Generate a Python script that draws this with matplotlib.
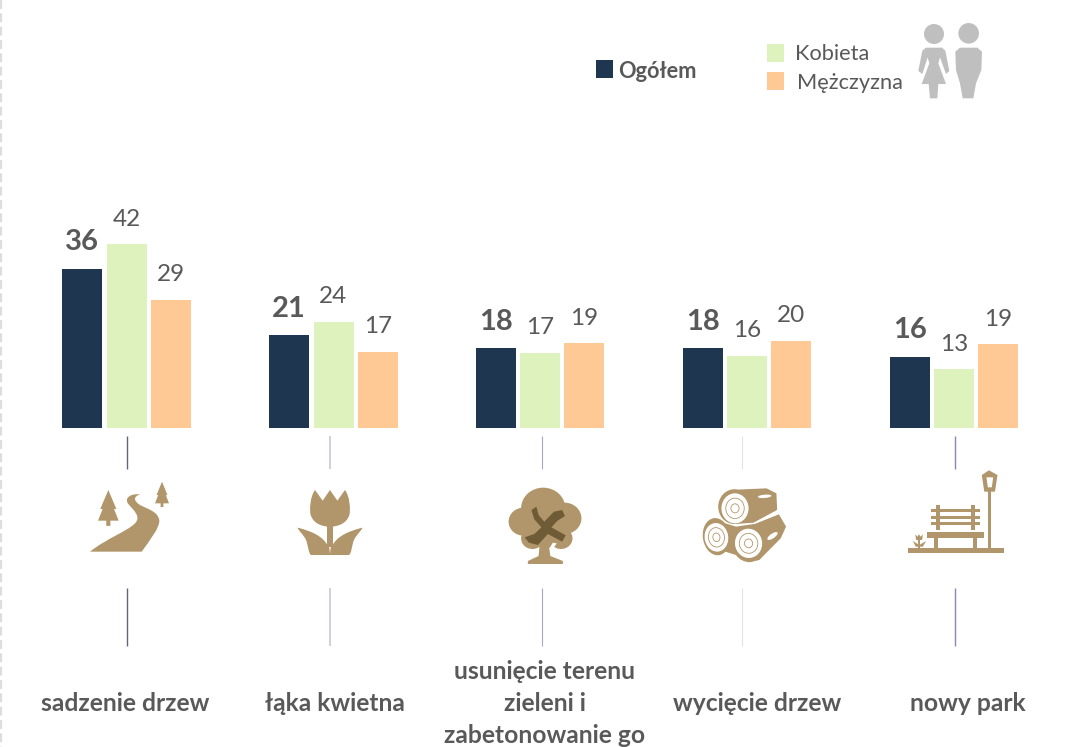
"""Grouped bars of most wanted green-space changes, with hand-drawn icons."""

import matplotlib.pyplot as plt
import numpy as np
from matplotlib.patches import Circle, Ellipse, PathPatch, Polygon, Rectangle
from matplotlib.path import Path

CATEGORIES = [
    "sadzenie drzew",
    "łąka kwietna",
    "usunięcie terenu\nzieleni i\nzabetonowanie go",
    "wycięcie drzew",
    "nowy park",
]
OGOLEM = [36.0, 21.0, 18.1, 18.1, 16.1]
KOBIETA = [41.6, 24.0, 17.0, 16.3, 13.3]
MEZCZYZNA = [29.0, 17.2, 19.2, 19.7, 19.0]

WIDTH = 1068
HEIGHT = 747
DPI = 100
BASELINE_PX = 428
PX_PER_UNIT = 4.42
GROUP_CENTERS = [126.5, 333.5, 540, 747, 954]
LABEL_CENTERS = [125, 334.5, 545, 757, 968]
BAR_OFFSET = 44.3
BAR_WIDTH = 40

NAVY = "#1f3650"
GREEN = "#ddf2bd"
ORANGE = "#fec995"
TAN = "#b0966a"
DARK_TAN = "#6f5c36"
GREY_TEXT = "#595959"
PEOPLE_GREY = "#bfbfbf"
FONT = "Lato"

plt.rcParams["font.family"] = [FONT, "DejaVu Sans"]


def zoom2(points):
    """Map coordinates of the left icon crop to figure pixels."""
    return [(x / 3, 430 + y / 3) for x, y in points]


def zoom3(points):
    """Map coordinates of the right icon crop to figure pixels."""
    return [(470 + x / 2.8, 430 + y / 3) for x, y in points]


def zoom1(points):
    """Map coordinates of the legend crop to figure pixels."""
    return [(560 + x / 3, y / 3) for x, y in points]


def add_poly(axis, points, color=TAN, zorder=3):
    axis.add_patch(Polygon(points, closed=True, fc=color, ec="none", zorder=zorder))


def add_curve(axis, points, codes, color=TAN, zorder=3):
    path = Path(points, codes)
    axis.add_patch(PathPatch(path, fc=color, ec="none", zorder=zorder))


def add_oval3(axis, cx, cy, rx, ry, angle=0, color=TAN, zorder=3):
    (x, y), = zoom3([(cx, cy)])
    axis.add_patch(Ellipse((x, y), rx * 2 / 2.8, ry * 2 / 3, angle=angle, fc=color, ec="none", zorder=zorder))


def draw_pine(axis, cx, top, half, height):
    """Small two-tier conifer in crop coordinates."""
    tier = top + height * 0.62
    bottom = top + height
    add_poly(axis, zoom2([
        (cx, top), (cx + half * 0.78, tier), (cx + half * 0.55, tier),
        (cx + half, bottom), (cx + half * 0.2, bottom), (cx + half * 0.2, bottom + height * 0.17),
        (cx - half * 0.2, bottom + height * 0.17), (cx - half * 0.2, bottom), (cx - half, bottom),
        (cx - half * 0.55, tier), (cx - half * 0.78, tier),
    ]))


def draw_road(axis):
    draw_pine(axis, 325, 180, 31, 92)
    draw_pine(axis, 486, 155, 21, 65)
    m, c, l = Path.MOVETO, Path.CURVE4, Path.LINETO
    points = zoom2([
        (270, 365),
        (320, 325), (380, 305), (405, 280),
        (425, 260), (400, 240), (385, 222),
        (372, 205), (390, 190), (420, 193),
        (400, 200), (400, 212), (420, 225),
        (445, 238), (475, 245), (478, 272),
        (478, 295), (450, 330), (425, 365),
        (270, 365),
    ])
    codes = [m, c, c, c, c, c, c, c, c, c, c, c, c, c, c, c, c, c, c, l]
    add_curve(axis, points, codes)


def draw_tulip(axis):
    m, c, l = Path.MOVETO, Path.CURVE4, Path.LINETO
    head = zoom2([
        (945, 180), (968, 212), (990, 180), (1012, 212), (1035, 180),
        (1050, 200), (1052, 240), (1048, 255),
        (1040, 280), (1015, 290), (990, 290),
        (965, 290), (940, 280), (932, 255),
        (928, 240), (930, 200), (945, 180),
    ])
    add_curve(axis, head, [m, l, l, l, l, c, c, c, c, c, c, c, c, c, c, c, c])
    add_poly(axis, zoom2([(980, 285), (1000, 285), (1000, 350), (980, 350)]))
    for sign in (-1, 1):
        leaf = [
            (990 + sign * 97, 293),
            (990 + sign * 50, 305), (990 + sign * 22, 320), (990 + sign * 8, 345),
            (990, 345), (990, 375), (990, 375),
            (990 + sign * 55, 375),
            (990 + sign * 65, 375), (990 + sign * 65, 345), (990 + sign * 72, 330),
            (990 + sign * 80, 312), (990 + sign * 97, 300), (990 + sign * 97, 293),
        ]
        add_curve(axis, zoom2(leaf), [m, c, c, c, c, c, c, l, c, c, c, c, c, c])


def draw_tree(axis):
    for cx, cy, r in [(205, 235, 62), (150, 275, 42), (265, 265, 47), (175, 325, 32),
                      (255, 325, 32), (205, 290, 60)]:
        add_oval3(axis, cx, cy, r, r)
    add_poly(axis, zoom3([
        (195, 345), (192, 378), (162, 393), (162, 402), (260, 402), (260, 393),
        (225, 378), (222, 355), (240, 330), (195, 330),
    ]))
    add_poly(axis, zoom3([(222, 356), (232, 338), (243, 340), (228, 362)]), color="white", zorder=4)
    add_poly(axis, zoom3([
        (172, 240), (186, 230), (192, 255), (208, 275), (235, 245), (258, 240), (266, 258),
        (245, 272), (228, 292), (268, 316), (258, 335), (218, 312), (190, 345), (165, 338),
        (153, 322), (180, 312), (200, 292), (180, 268),
    ]), color=DARK_TAN, zorder=5)


def draw_logs(axis):
    add_oval3(axis, 740, 230, 45, 52)
    add_oval3(axis, 690, 320, 38, 56, angle=-8)
    add_oval3(axis, 780, 343, 45, 53, angle=-8)
    add_poly(axis, zoom3([
        (725, 180), (830, 175), (858, 190), (860, 240), (795, 278), (740, 282),
    ]))
    add_poly(axis, zoom3([
        (795, 282), (865, 253), (885, 290), (870, 325), (810, 390), (780, 397), (745, 375),
        (700, 360), (700, 275), (745, 290),
    ]))
    add_poly(axis, zoom3([(793, 279), (860, 241), (862, 253), (797, 282)]), color="white", zorder=4)
    faces = [(742, 235, 38, 45, 0), (690, 322, 33, 43, -8), (780, 340, 38, 44, -8)]
    for cx, cy, rx, ry, angle in faces:
        (x, y), = zoom3([(cx, cy)])
        add_oval3(axis, cx, cy, rx, ry, angle=angle, color="white", zorder=4)
        for scale in (0.68, 0.3):
            axis.add_patch(Ellipse((x, y), rx * 2 / 2.8 * scale, ry * 2 / 3 * scale, angle=angle,
                                   fc="none", ec=TAN, lw=0.6, zorder=5))
    add_oval3(axis, 825, 199, 19, 5, angle=-5, color="white", zorder=4)
    add_oval3(axis, 847, 318, 17, 7, angle=-35, color="white", zorder=4)


def add_rect3(axis, x0, y0, x1, y1, color=TAN, zorder=3):
    (px0, py0), (px1, py1) = zoom3([(x0, y0), (x1, y1)])
    axis.add_patch(Rectangle((px0, py0), px1 - px0, py1 - py0, fc=color, ec="none", zorder=zorder))


def draw_bench(axis):
    add_rect3(axis, 1225, 355, 1495, 368)
    add_rect3(axis, 1449, 180, 1460, 356)
    add_poly(axis, zoom3([(1433, 135), (1453, 121), (1477, 135), (1470, 185), (1440, 185)]))
    add_poly(axis, zoom3([(1446, 142), (1465, 142), (1461, 172), (1450, 172)]), color="white", zorder=4)
    add_rect3(axis, 1280, 307, 1438, 325)
    add_rect3(axis, 1298, 325, 1310, 356)
    add_rect3(axis, 1408, 325, 1420, 356)
    for top in (237, 257, 277):
        add_rect3(axis, 1290, top, 1428, top + 9)
    add_rect3(axis, 1306, 225, 1316, 300)
    add_rect3(axis, 1403, 225, 1414, 300)
    add_poly(axis, zoom3([(1247, 313), (1253, 320), (1257, 313), (1262, 320), (1268, 313),
                          (1266, 330), (1249, 330)]))
    add_rect3(axis, 1255, 328, 1260, 356)
    add_poly(axis, zoom3([(1240, 333), (1258, 345), (1277, 333), (1268, 350), (1248, 350)]))


def draw_people(axis):
    (wx, wy), (mx, my) = zoom1([(1122, 102), (1226, 100)])
    axis.add_patch(Circle((wx, wy), 10, fc=PEOPLE_GREY, ec="none", zorder=3))
    axis.add_patch(Circle((mx, my), 10.3, fc=PEOPLE_GREY, ec="none", zorder=3))
    add_poly(axis, zoom1([
        (1098, 143), (1146, 143), (1156, 152), (1168, 213), (1158, 222), (1140, 172), (1135, 190),
        (1158, 252), (1135, 252), (1132, 295), (1110, 295), (1106, 252), (1085, 252), (1108, 190),
        (1103, 172), (1087, 222), (1075, 213), (1087, 152),
    ]), color=PEOPLE_GREY)
    add_poly(axis, zoom1([
        (1186, 155), (1200, 143), (1252, 143), (1266, 155), (1264, 210), (1248, 250), (1240, 295),
        (1208, 295), (1200, 250), (1188, 210),
    ]), color=PEOPLE_GREY)


fig = plt.figure(figsize=(WIDTH / DPI, HEIGHT / DPI), dpi=DPI, facecolor="white")

bar_ax = fig.add_axes([0, (HEIGHT - BASELINE_PX) / HEIGHT, 1, BASELINE_PX / HEIGHT])
bar_ax.set_xlim(0, WIDTH)
bar_ax.set_ylim(0, BASELINE_PX / PX_PER_UNIT)
bar_ax.axis("off")

centers = np.array(GROUP_CENTERS)
series = [
    (OGOLEM, NAVY, -BAR_OFFSET, "bold", 21, 19),
    (KOBIETA, GREEN, 0, "normal", 17.5, 18),
    (MEZCZYZNA, ORANGE, BAR_OFFSET, "normal", 17.5, 18),
]
for values, color, offset, weight, size, pad in series:
    bars = bar_ax.bar(centers + offset, values, width=BAR_WIDTH, color=color, linewidth=0)
    for rect, value in zip(bars, values):
        bar_ax.annotate(
            f"{value:.0f}",
            (rect.get_x() + rect.get_width() / 2, value),
            xytext=(0, pad),
            textcoords="offset points",
            ha="center",
            va="center",
            fontsize=size,
            fontweight=weight,
            color=GREY_TEXT,
        )

ax = fig.add_axes([0, 0, 1, 1], zorder=2)
ax.set_xlim(0, WIDTH)
ax.set_ylim(HEIGHT, 0)
ax.axis("off")
ax.patch.set_alpha(0)

# faint dashed page edge on the left
ax.plot([1, 1], [0, HEIGHT], color="#dddddd", lw=1.6, ls=(0, (4, 2)))

connectors = [(127, "#66637f", 1.0), (329.5, "#d0cfe0", 1.4), (542, "#a9a7c9", 0.8),
              (742, "#e2e2e2", 0.8), (954.5, "#8a86b8", 1.0)]
for x, color, width in connectors:
    ax.plot([x, x], [436, 469], color=color, lw=width, solid_capstyle="butt")
    ax.plot([x, x], [588, 646], color=color, lw=width, solid_capstyle="butt")

draw_road(ax)
draw_tulip(ax)
draw_tree(ax)
draw_logs(ax)
draw_bench(ax)
draw_people(ax)

for x, label in zip(LABEL_CENTERS, CATEGORIES):
    ax.text(x, 703.5, label, ha="center", va="center", fontsize=17.7, fontweight="bold",
            color=GREY_TEXT, linespacing=1.45)

legend = [(596, 60, NAVY, 618, 71.5, "Ogółem", "bold"),
          (767, 44, GREEN, 795, 53.5, "Kobieta", "normal"),
          (767, 72, ORANGE, 797, 83, "Mężczyzna", "normal")]
for box_x, box_y, color, text_x, text_y, label, weight in legend:
    ax.add_patch(Rectangle((box_x, box_y), 17, 18, fc=color, ec="none"))
    ax.text(text_x, text_y, label, ha="left", va="center", fontsize=15.7, fontweight=weight, color=GREY_TEXT)

fig.savefig("out.png", dpi=DPI)
plt.close(fig)
